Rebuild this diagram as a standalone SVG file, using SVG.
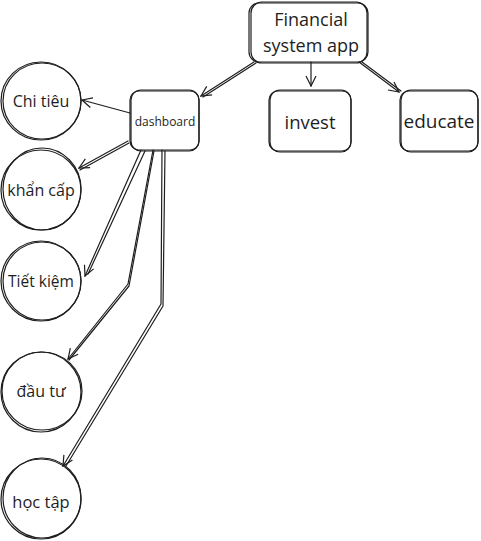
<svg xmlns="http://www.w3.org/2000/svg" width="481" height="541" viewBox="0 0 481 541">
<defs>
<style>
.s{fill:none;stroke:#1e1e1e;stroke-width:1.2;stroke-linecap:round;stroke-linejoin:round}
.t{font-family:"Open Sans","Liberation Sans",sans-serif;fill:#1e1e1e;text-anchor:middle;dominant-baseline:central}
</style>
<marker id="ah" viewBox="0 0 12 12" refX="11" refY="6" markerWidth="12" markerHeight="12" markerUnits="userSpaceOnUse" orient="auto">
<path d="M1,1 L11,6 L1,11" fill="none" stroke="#1e1e1e" stroke-width="1.2"/>
</marker>
</defs>
<rect width="481" height="541" fill="#fff"/>
<g id="connectors">
<path class="s" d="M254,62 L201,96" marker-end="url(#ah)"/>
<path class="s" d="M256,63 L203,97"/>
<path class="s" d="M311,62 L311,86" marker-end="url(#ah)"/>
<path class="s" d="M359,62 L399,92" marker-end="url(#ah)"/>
<path class="s" d="M362,62 L401,91"/>
<path class="s" d="M130,113 L82,100" marker-end="url(#ah)"/>
<path class="s" d="M128,141 L79,168" marker-end="url(#ah)"/>
<path class="s" d="M129,143 L80,170"/>
<path class="s" d="M141,150 L85,276" marker-end="url(#ah)"/>
<path class="s" d="M145,151 L88,274"/>
<path class="s" d="M153,150 L128,284 L68,359" marker-end="url(#ah)"/>
<path class="s" d="M154,151 L129,286 L69,360"/>
<path class="s" d="M162,150 L161,304 L63,466" marker-end="url(#ah)"/>
<path class="s" d="M165,151 L163,306 L66,466"/>
</g>
<g id="n-financial">
<rect class="s" x="249" y="3" width="119" height="59" rx="10"/>
<rect class="s" x="251" y="2" width="116" height="61" rx="11"/>
<text class="t" x="311" y="19" font-size="18">Financial</text>
<text class="t" x="311" y="45" font-size="18">system app</text>
</g>
<g id="n-dashboard">
<rect class="s" x="130" y="91" width="69" height="59" rx="9"/>
<rect class="s" x="131" y="90" width="68" height="61" rx="10"/>
<text class="t" x="165" y="121" font-size="12" fill="#444">dashboard</text>
</g>
<g id="n-invest">
<rect class="s" x="269" y="91" width="82" height="60" rx="9"/>
<rect class="s" x="270" y="90" width="81" height="62" rx="10"/>
<text class="t" x="310" y="121" font-size="18.5">invest</text>
</g>
<g id="n-educate">
<rect class="s" x="400" y="91" width="78" height="60" rx="9"/>
<rect class="s" x="401" y="90" width="77" height="62" rx="10"/>
<text class="t" x="439" y="121" font-size="19">educate</text>
</g>
<g id="n-chitieu">
<ellipse class="s" cx="41" cy="101" rx="40" ry="39"/>
<ellipse class="s" cx="42" cy="101" rx="39" ry="38"/>
<text class="t" x="41" y="101" font-size="16">Chi tiêu</text>
</g>
<g id="n-khancap">
<ellipse class="s" cx="41" cy="190" rx="40" ry="40"/>
<ellipse class="s" cx="42" cy="189" rx="39" ry="41"/>
<text class="t" x="41" y="190" font-size="16">khẩn cấp</text>
</g>
<g id="n-tietkiem">
<ellipse class="s" cx="41" cy="281" rx="40" ry="40"/>
<ellipse class="s" cx="42" cy="281" rx="39" ry="39"/>
<text class="t" x="41" y="281" font-size="15.5">Tiết kiệm</text>
</g>
<g id="n-dautu">
<ellipse class="s" cx="41" cy="392" rx="40" ry="40"/>
<ellipse class="s" cx="42" cy="391" rx="40" ry="39"/>
<text class="t" x="41" y="391" font-size="16">đầu tư</text>
</g>
<g id="n-hoctap">
<ellipse class="s" cx="41" cy="499" rx="40" ry="40"/>
<ellipse class="s" cx="42" cy="498" rx="39" ry="40"/>
<text class="t" x="41" y="501" font-size="16.5">học tập</text>
</g>
</svg>
